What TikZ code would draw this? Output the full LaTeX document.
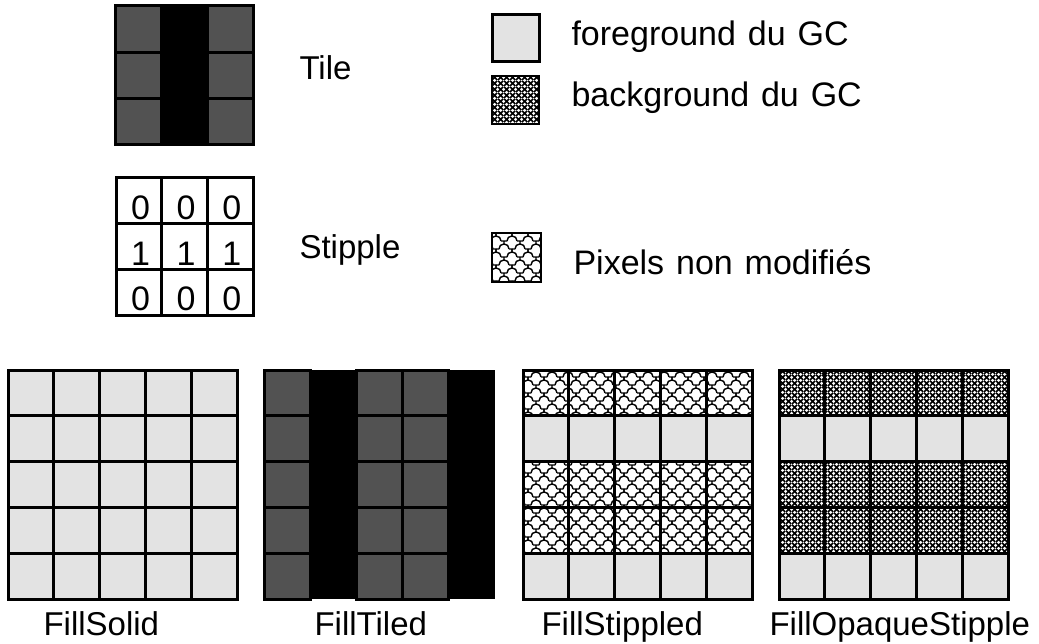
\documentclass[tikz,border=0pt]{standalone}
\usepackage{fontspec}
\setmainfont{Liberation Sans}
\usetikzlibrary{patterns}
\definecolor{fggray}{RGB}{227,227,227}
\definecolor{tiledark}{RGB}{82,82,82}
\protected\def\legfont{\fontsize{34}{40}\selectfont\spaceskip=0.35em\relax}

\pgfdeclarepatternformonly{dither}{\pgfqpoint{0pt}{0pt}}{\pgfqpoint{6pt}{6pt}}{\pgfqpoint{6pt}{6pt}}{
\pgfsetlinewidth{1.7pt}
\pgfpathmoveto{\pgfqpoint{0pt}{0pt}}\pgfpathlineto{\pgfqpoint{6pt}{6pt}}
\pgfpathmoveto{\pgfqpoint{0pt}{6pt}}\pgfpathlineto{\pgfqpoint{6pt}{0pt}}
\pgfusepath{stroke}
}

\pgfdeclarepatternformonly{scales}{\pgfqpoint{-1pt}{-1pt}}{\pgfqpoint{17pt}{17pt}}{\pgfqpoint{16pt}{16pt}}{
\pgfsetlinewidth{1.4pt}
\pgfpathmoveto{\pgfqpoint{3pt}{11pt}}\pgfpathcurveto{\pgfqpoint{3pt}{14pt}}{\pgfqpoint{5pt}{16pt}}{\pgfqpoint{8pt}{16pt}}
\pgfpathcurveto{\pgfqpoint{11pt}{16pt}}{\pgfqpoint{13pt}{14pt}}{\pgfqpoint{13pt}{11pt}}
\pgfpathmoveto{\pgfqpoint{0pt}{11pt}}\pgfpathlineto{\pgfqpoint{3pt}{11pt}}
\pgfpathmoveto{\pgfqpoint{13pt}{11pt}}\pgfpathlineto{\pgfqpoint{16pt}{11pt}}
\pgfpathmoveto{\pgfqpoint{0pt}{11pt}}\pgfpathlineto{\pgfqpoint{0pt}{8pt}}
\pgfpathmoveto{\pgfqpoint{16pt}{11pt}}\pgfpathlineto{\pgfqpoint{16pt}{8pt}}
\pgfpathmoveto{\pgfqpoint{0pt}{8pt}}\pgfpathcurveto{\pgfqpoint{3pt}{8pt}}{\pgfqpoint{5pt}{6pt}}{\pgfqpoint{5pt}{3pt}}
\pgfpathmoveto{\pgfqpoint{16pt}{8pt}}\pgfpathcurveto{\pgfqpoint{13pt}{8pt}}{\pgfqpoint{11pt}{6pt}}{\pgfqpoint{11pt}{3pt}}
\pgfpathmoveto{\pgfqpoint{5pt}{3pt}}\pgfpathlineto{\pgfqpoint{11pt}{3pt}}
\pgfpathmoveto{\pgfqpoint{8pt}{3pt}}\pgfpathlineto{\pgfqpoint{8pt}{0pt}}
\pgfusepath{stroke}
}

\begin{document}
\begin{tikzpicture}[x=1pt,y=-1pt,
  pix/.style={draw=black,line width=3pt},
  fgpix/.style={pix,fill=fggray},
  bgpix/.style={pix,pattern=dither},
  oldpix/.style={pix,pattern=scales},
  darkpix/.style={pix,fill=tiledark},
  txt/.style={anchor=base west,font=\fontsize{33}{40}\selectfont},
  legtxt/.style={anchor=base west,font=\legfont},
  digit/.style={anchor=base,font=\fontsize{34}{40}\selectfont}]
\useasboundingbox (0,0) rectangle (1039,644);

\foreach \r in {0,1,2} {
  \draw [darkpix] (115,6+\r*46.3) rectangle ++(46.3,46.3);
  \draw [darkpix] (207.6,6+\r*46.3) rectangle ++(46.3,46.3);
}
\fill [black] (161.3,6) rectangle (207.6,144.9);
\draw [line width=3pt] (115,6) rectangle (253.9,144.9);

\foreach \c in {0,1,2}
  \foreach \r/\b in {0/0,1/1,2/0} {
    \draw [pix] (116+\c*45.7,178+\r*45.7) rectangle ++(45.7,45.7);
    \node [digit] (s\r\c) at (140.5+\c*45.7,219.5+\r*45.7) {\b};
  }

\node [txt] (tilelbl) at (296,80) {Tile};
\node [txt] (stiplbl) at (296,259) {Stipple};

\draw [fgpix] (492,15) rectangle (539,62);
\draw [bgpix,line width=2.5pt] (492,76) rectangle (539,124);
\draw [oldpix,line width=2.5pt] (492,233) rectangle (541,282);
\node [legtxt] (fglbl) at (568,46) {foreground du GC};
\node [legtxt] (bglbl) at (568,107) {background du GC};
\node [legtxt] (oldlbl) at (570,275) {Pixels non modifiés};

\foreach \c in {0,...,4}
  \foreach \r in {0,...,4}
    \draw [fgpix] (8+\c*45.8,370+\r*45.8) rectangle ++(45.8,45.8);

\foreach \c in {0,2,3}
  \foreach \r in {0,...,4}
    \draw [darkpix] (264+\c*46.2,370+\r*45.8) rectangle ++(46.2,45.8);
\foreach \c in {1,4}
  \fill [black] (264+\c*46.2,370) rectangle ++(46.2,229);

\foreach \c in {0,...,4} {
  \foreach \r in {0,2,3}
    \draw [oldpix] (523+\c*45.8,370+\r*45.8) rectangle ++(45.8,45.8);
  \foreach \r in {1,4}
    \draw [fgpix] (523+\c*45.8,370+\r*45.8) rectangle ++(45.8,45.8);
}

\foreach \c in {0,...,4} {
  \foreach \r in {0,2,3}
    \draw [bgpix] (779+\c*45.8,370+\r*45.8) rectangle ++(45.8,45.8);
  \foreach \r in {1,4}
    \draw [fgpix] (779+\c*45.8,370+\r*45.8) rectangle ++(45.8,45.8);
}

\node [txt] (solidlbl) at (40,635) {FillSolid};
\node [txt] (tiledlbl) at (311,635) {FillTiled};
\node [txt] (stippledlbl) at (538,635) {FillStippled};
\node [txt] (opaquelbl) at (766,635) {FillOpaqueStipple};

\end{tikzpicture}
\end{document}
